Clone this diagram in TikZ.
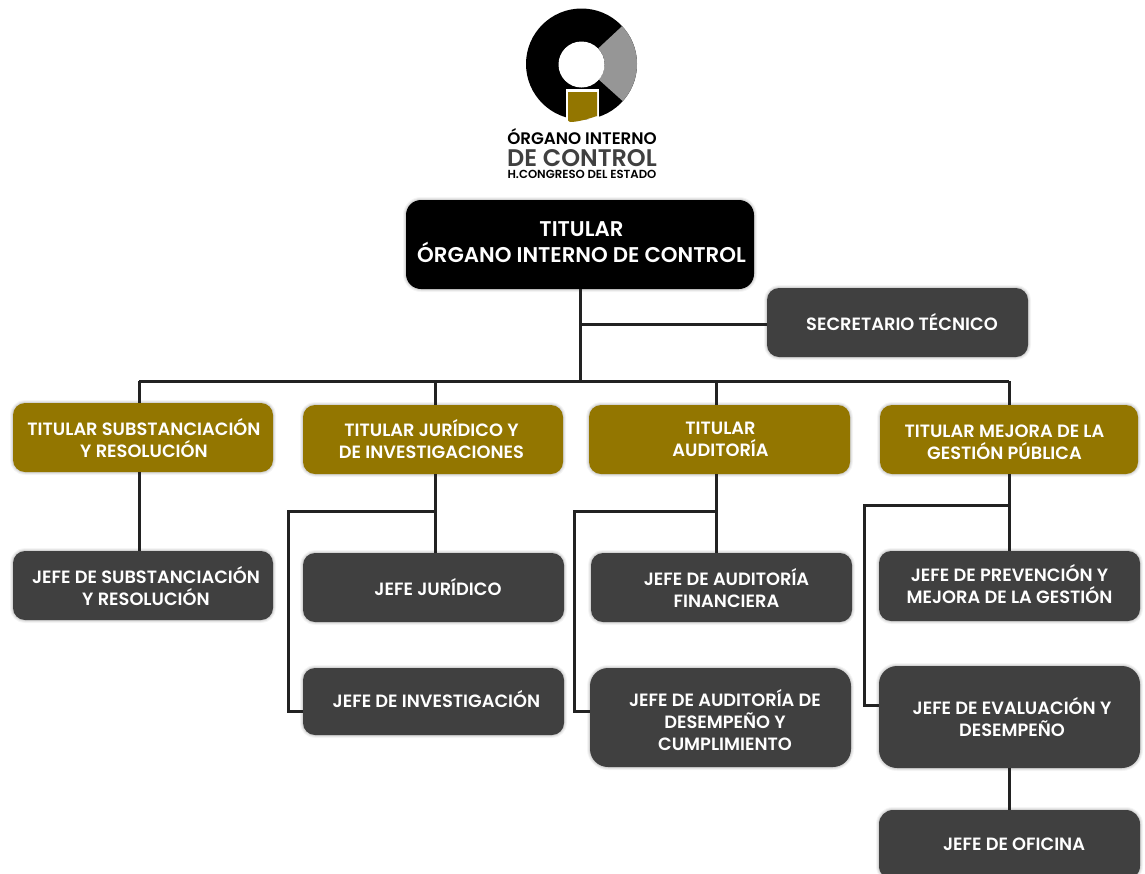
\documentclass[tikz,border=0pt]{standalone}
\usepackage{fontspec}
\setmainfont{Poppins}
\newfontfamily\semifont{Poppins SemiBold}
\usetikzlibrary{positioning}

\definecolor{oicgold}{HTML}{937600}
\definecolor{oicdark}{HTML}{404040}
\definecolor{oicgrey}{HTML}{969696}
\definecolor{oicline}{HTML}{222222}

\tikzset{
  every box/.style={rectangle, rounded corners=12pt, inner sep=0pt, text=white,
    minimum width=261pt, minimum height=69pt,
    font=\semifont\fontsize{17.8}{22}\selectfont,
    preaction={draw=black, line width=6pt, opacity=.04},
    preaction={draw=black, line width=4pt, opacity=.06},
    preaction={draw=black, line width=2pt, opacity=.08}},
  head box/.style={every box, fill=black, rounded corners=15pt,
    font=\semifont\fontsize{21.3}{26}\selectfont},
  gold box/.style={every box, fill=oicgold},
  dark box/.style={every box, fill=oicdark},
  link/.style={draw=oicline, line width=3pt},
  logo text/.style={inner sep=0pt, anchor=base, text depth=0pt}
}
% #1 moves the text down, #2 sideways inside its box
\newcommand{\boxtext}[3][1]{\vbox{\kern#1pt\hbox{\hspace*{#2pt}\vbox{\lineskiplimit=-20pt\let\\\cr
  \halign{\hfil##\hfil\cr #3\crcr}}}}}

\begin{document}
\begin{tikzpicture}[x=1pt, y=-1pt]
\useasboundingbox (0,0) rectangle (1145,873);

% logo
\fill [black] (581.5,64) circle (55.5);
\fill [oicgrey] (581.5,64) ++(-43:55.5) arc (-43:42:55.5) -- ++(222:32.5) arc (42:-43:23) -- cycle;
\fill [white] (581.5,64.5) circle (23);
\fill [white] (566,89) rectangle (599,119);
\fill [oicgold] (568,92) -- (597,92) -- (597,116) .. controls (588,119) and (578,122) .. (570,122) .. controls (568,122) and (568,120) .. (568,118) -- cycle;
\node [logo text, font=\semifont\fontsize{16.7}{20}\selectfont, text=black] (logo-1) at (582,144) {ÓRGANO INTERNO};
\node [logo text, font=\semifont\fontsize{24}{24}\selectfont, text=oicdark] (logo-2) at (582,166) {DE CONTROL};
\node [logo text, font=\semifont\fontsize{11.7}{12}\selectfont, text=black] (logo-3) at (582,178) {H.CONGRESO DEL ESTADO};

% boxes
\node [head box, minimum width=348pt, minimum height=89pt] (titular) at (580,244.5) {\boxtext[-4]{3}{TITULAR\\ÓRGANO INTERNO DE CONTROL}};
\node [dark box, minimum height=69pt] (secretario) at (897.5,322.5) {\boxtext[-1]{9}{SECRETARIO TÉCNICO}};

\node [gold box, minimum width=260pt] (area-1) at (143,437.5) {\boxtext{2}{TITULAR SUBSTANCIACIÓN\\Y RESOLUCIÓN}};
\node [gold box, minimum width=260pt] (area-2) at (433,439.5) {\boxtext[0]{-3}{TITULAR JURÍDICO Y\\DE INVESTIGACIONES}};
\node [gold box] (area-3) at (719.5,439.5) {\boxtext[-1]{2}{TITULAR\\AUDITORÍA}};
\node [gold box, minimum width=258pt] (area-4) at (1009,439.5) {\boxtext[5]{-9}{TITULAR MEJORA DE LA\\GESTIÓN PÚBLICA}};

\node [dark box, minimum width=260pt] (jefe-1) at (143,585.5) {\boxtext{6}{JEFE DE SUBSTANCIACIÓN\\Y RESOLUCIÓN}};
\node [dark box] (jefe-2) at (433.5,587.5) {\boxtext[-1]{9}{JEFE JURÍDICO}};
\node [dark box, minimum height=67pt] (jefe-3) at (433.5,701.5) {\boxtext[-5]{6}{JEFE DE INVESTIGACIÓN}};
\node [dark box] (jefe-4) at (721.5,587.5) {\boxtext{10}{JEFE DE AUDITORÍA\\FINANCIERA}};
\node [dark box, minimum height=99pt, rounded corners=18pt] (jefe-5) at (720.5,717.5) {\boxtext[5]{9}{JEFE DE AUDITORÍA DE\\DESEMPEÑO Y\\CUMPLIMIENTO}};
\node [dark box, minimum height=70pt] (jefe-6) at (1009.5,586) {\boxtext[-3]{0}{JEFE DE PREVENCIÓN Y\\MEJORA DE LA GESTIÓN}};
\node [dark box, minimum height=102pt, rounded corners=18pt] (jefe-7) at (1009.5,717) {\boxtext{5}{JEFE DE EVALUACIÓN Y\\DESEMPEÑO}};
\node [dark box, minimum height=70pt, rounded corners=14pt] (jefe-8) at (1009.5,845) {\boxtext[-1]{9}{JEFE DE OFICINA}};

% bus coordinates
\coordinate (bus-0) at (580,381);
\coordinate (bus-1) at (139,381);
\coordinate (bus-2) at (435,381);
\coordinate (bus-3) at (716,381);
\coordinate (bus-4) at (1009,381);
\coordinate (side-2) at (288,511);
\coordinate (side-3) at (574,511);
\coordinate (side-4) at (864,505);

% connectors
\draw [link] (titular) -- (bus-0);
\draw [link] (titular.south |- secretario) ++(0,1.5) -- (secretario.west |- 0,324);
\draw [link] (bus-1) -- (bus-4);
\foreach \i in {1,...,4}
  \draw [link] (bus-\i) -- (area-\i.north -| bus-\i);
\draw [link] (area-1.south -| bus-1) -- (jefe-1.north -| bus-1);
\draw [link] (area-2.south -| bus-2) -- (jefe-2.north -| bus-2);
\draw [link] (area-3.south -| bus-3) -- (jefe-4.north -| bus-3);
\draw [link] (area-4.south -| bus-4) -- (jefe-6.north -| bus-4);
\draw [link] (jefe-7.south -| bus-4) -- (jefe-8.north -| bus-4);
\draw [link] (bus-2 |- side-2) -- (side-2) |- (jefe-3.west |- 0,711);
\draw [link] (bus-3 |- side-3) -- (side-3) |- (jefe-5.west |- 0,711);
\draw [link] (bus-4 |- side-4) -- (side-4) |- (jefe-7.west |- 0,705);
\end{tikzpicture}
\end{document}
